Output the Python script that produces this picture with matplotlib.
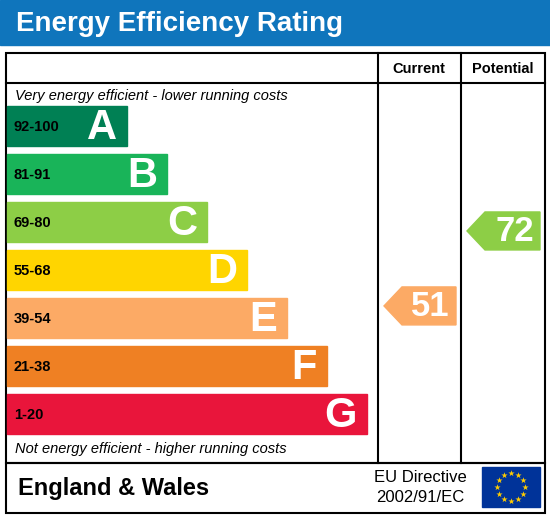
import matplotlib
matplotlib.use("Agg")
import matplotlib.pyplot as plt
from matplotlib.patches import Rectangle, Polygon
import numpy as np

plt.rcParams['font.family'] = ['Liberation Sans', 'DejaVu Sans']

bands = ['A', 'B', 'C', 'D', 'E', 'F', 'G']
ranges = ['92-100', '81-91', '69-80', '55-68', '39-54', '21-38', '1-20']
lows = [92, 81, 69, 55, 39, 21, 1]
colors = ['#008054', '#19b459', '#8dce46', '#ffd500', '#fcaa65', '#ef8023', '#e9153b']
current = 51
potential = 72

fig = plt.figure(figsize=(5.5, 5.17), dpi=100)
ax = fig.add_axes([0, 0, 1, 1])
ax.set_xlim(0, 550)
ax.set_ylim(517, 0)
ax.axis('off')

# header
ax.add_patch(Rectangle((0, 0), 550, 45, color='#0f75bc'))
ax.text(16, 24, 'Energy Efficiency Rating', color='white', fontsize=20, fontweight='bold', va='center')

# frames
ax.add_patch(Rectangle((6, 53), 539, 410, fill=False, lw=1.5, ec='black'))
ax.add_patch(Rectangle((6, 463), 539, 50, fill=False, lw=1.5, ec='black'))
ax.plot([6, 545], [83, 83], color='black', lw=1.5)
ax.plot([378, 378], [53, 463], color='black', lw=1.5)
ax.plot([461, 461], [53, 463], color='black', lw=1.5)
ax.text(419, 69, 'Current', fontsize=10.5, fontweight='bold', ha='center', va='center')
ax.text(503, 69, 'Potential', fontsize=10.5, fontweight='bold', ha='center', va='center')
ax.text(15, 96, 'Very energy efficient - lower running costs', fontsize=10.5, style='italic', va='center')
ax.text(15, 449, 'Not energy efficient - higher running costs', fontsize=10.5, style='italic', va='center')

for i, (b, r, c) in enumerate(zip(bands, ranges, colors)):
    y0 = 106 + i * 48
    x1 = 127 + i * 40
    ax.add_patch(Rectangle((7, y0), x1 - 7, 40, color=c))
    ax.text(14, y0 + 21, r, fontsize=10.5, fontweight='bold', va='center', color='black')
    ax.text(x1 - 10, y0 + 22, b, fontsize=30, fontweight='bold', color='white',
            ha='right', va='center')

def band_of(v):
    for i, lo in enumerate(lows):
        if v >= lo:
            return i
    return 6

def arrow(v, xl, xr):
    i = band_of(v)
    yc = 488 - 3.57 * v
    h = 19
    pts = [(xl, yc), (xl + 18, yc - h), (xr, yc - h), (xr, yc + h), (xl + 18, yc + h)]
    ax.add_patch(Polygon(pts, color=colors[i]))
    ax.text(xr - 6, yc + 1, str(v), fontsize=25, fontweight='bold', color='white', ha='right', va='center')

arrow(current, 384, 456)
arrow(potential, 467, 540)

# footer
ax.text(18, 489, 'England & Wales', fontsize=17, fontweight='bold', va='center')
ax.text(420, 478, 'EU Directive', fontsize=12, ha='center', va='center')
ax.text(420, 497, '2002/91/EC', fontsize=12, ha='center', va='center')
ax.add_patch(Rectangle((482, 467), 58, 40, color='#003399'))
ang = np.linspace(0, 2 * np.pi, 13)[:-1]
ax.scatter(511 + 14 * np.cos(ang), 487 + 14 * np.sin(ang), marker='*', s=22, color='#ffcc00', lw=0)

fig.savefig('out.png', dpi=100)
